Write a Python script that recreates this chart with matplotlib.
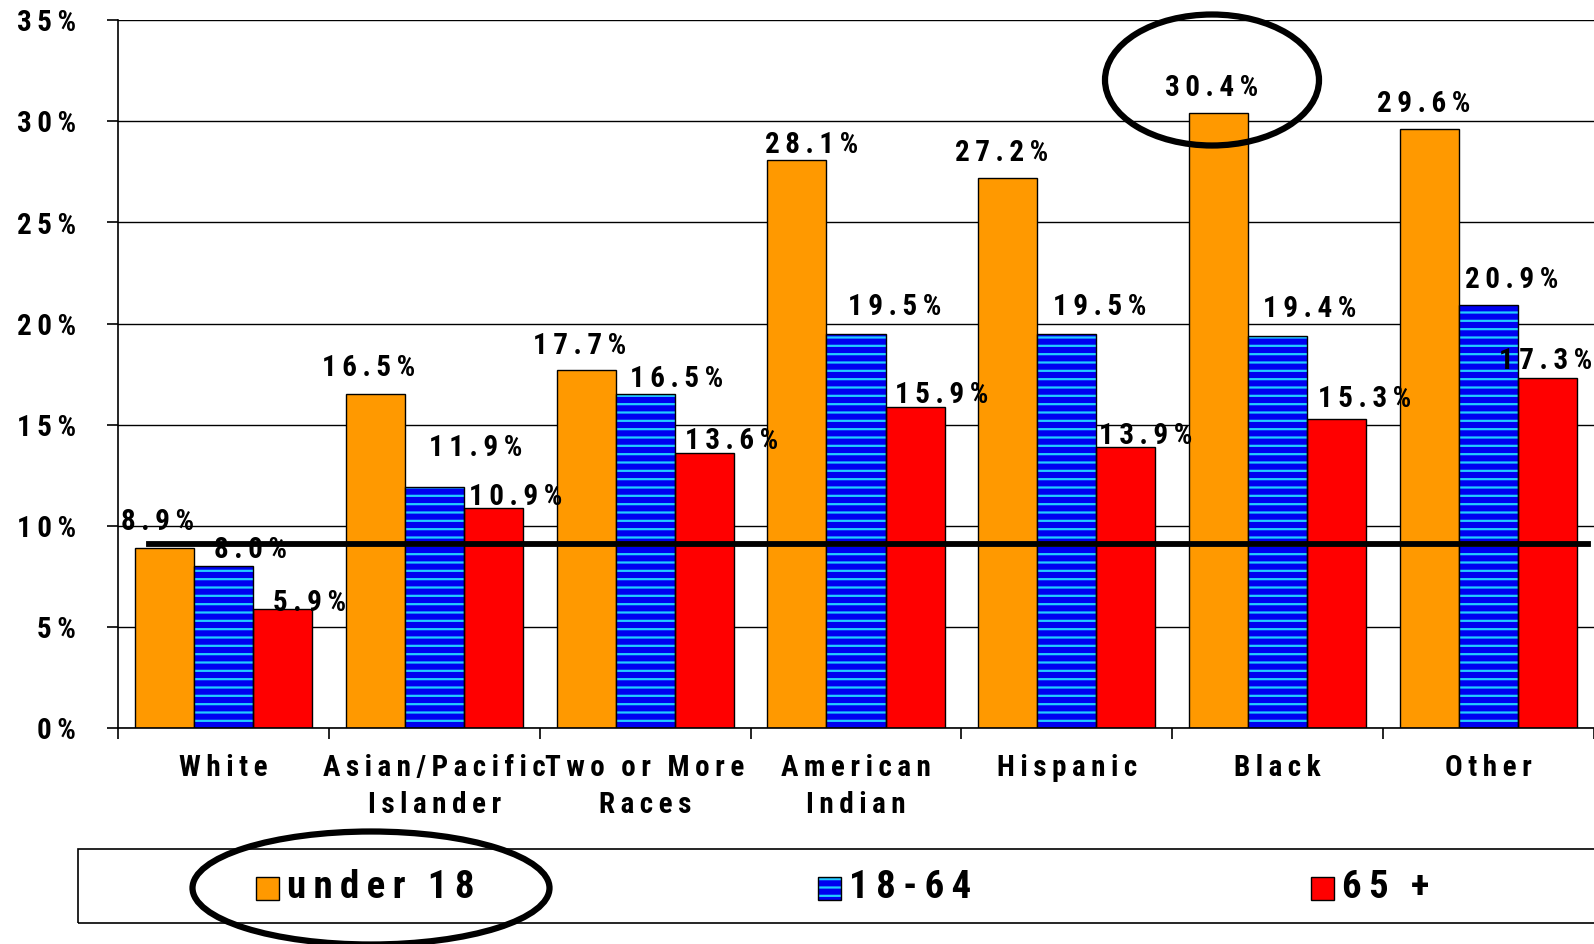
import matplotlib
matplotlib.use("Agg")
import matplotlib.pyplot as plt
from matplotlib.patches import Ellipse, Rectangle
import numpy as np

plt.rcParams['font.family'] = ['Roboto Condensed', 'Liberation Sans', 'DejaVu Sans']
plt.rcParams['font.weight'] = 'bold'
plt.rcParams['hatch.linewidth'] = 1.6

# ---------------- data ----------------
categories = ["White", "Asian/Pacific\nIslander", "Two or More\nRaces", "American\nIndian",
              "Hispanic", "Black", "Other"]
series_names = ["under 18", "18-64", "65 +"]
under18 = [8.9, 16.5, 17.7, 28.1, 27.2, 30.4, 29.6]
age18_64 = [8.0, 11.9, 16.5, 19.5, 19.5, 19.4, 20.9]
age65 = [5.9, 10.9, 13.6, 15.9, 13.9, 15.3, 17.3]
reference_line = 9.1
yticks = [0, 5, 10, 15, 20, 25, 30, 35]

# label placement (pixels, relative to bar top centre) - styling only
lab_dx = [[-7, -7, -6, 14, -6, -7, -6],
          [27, 41, 31, 38, 32, 31, 23],
          [27, 22, 27, 26, 19, 27, -2]]
lab_dy = [[26, 26, 24, 15, 25, 25, 25],
          [16, 39, 15, 26, 26, 26, 25],
          [6, 10, 12, 11, 11, 19, 17]]

ORANGE = "#FF9900"
BLUE = "#0000F0"
CYAN = "#22CCFF"
RED = "#FF0000"

SP = "\u2009"  # thin space used as letter spacing


def spaced(s):
    return "\n".join(SP.join(line.replace(" ", SP)) for line in s.split("\n"))


W, H = 1594, 944
fig = plt.figure(figsize=(W / 100, H / 100), dpi=100)
ax = fig.add_axes([118 / W, 1 - 728 / H, (W - 118) / W, (728 - 20.3) / H])

x = np.arange(len(categories))
bw = 0.28

ax.set_axisbelow(True)
ax.yaxis.grid(True, color="black", linewidth=1.0)

b1 = ax.bar(x - bw, under18, bw, color=ORANGE, edgecolor="black", linewidth=1.0, zorder=2)
# blue bars with cyan horizontal stripes
ax.bar(x, age18_64, bw, color=BLUE, edgecolor=CYAN, linewidth=0, hatch="--", zorder=2)
b2 = ax.bar(x, age18_64, bw, fill=False, edgecolor="black", linewidth=1.0, zorder=2.1)
b3 = ax.bar(x + bw, age65, bw, color=RED, edgecolor="black", linewidth=1.0, zorder=2)

ax.set_xlim(-0.5, len(categories) - 0.5)
ax.set_ylim(0, 35)

# value labels
scale = W / 1568
for si, (vals, offs) in enumerate(zip([under18, age18_64, age65], [-bw, 0, bw])):
    for ci, v in enumerate(vals):
        ax.annotate(spaced(f"{v:.1f}%"), xy=(x[ci] + offs, v),
                    xytext=(lab_dx[si][ci] * scale, lab_dy[si][ci] * scale),
                    textcoords="offset pixels", ha="center", va="center",
                    fontsize=21, fontweight="bold", zorder=5)

# reference line
ax.axhline(reference_line, xmin=0.0207, xmax=0.9959, color="black", linewidth=4.2, zorder=4)

# axes styling
for s in ["top", "right"]:
    ax.spines[s].set_visible(False)
ax.spines["left"].set_linewidth(1.2)
ax.spines["bottom"].set_linewidth(1.2)

ax.set_yticks(yticks)
ax.set_yticklabels([spaced(f"{t}%") for t in yticks], fontsize=21, fontweight="bold")
ax.tick_params(axis="y", direction="out", length=8, width=1.2, pad=22)

ax.set_xticks(x)
ax.set_xticklabels([spaced(c) for c in categories], fontsize=21, fontweight="bold",
                   linespacing=1.4, va="top")
ax.set_xticks(np.arange(-0.5, len(categories)), minor=True)
ax.tick_params(axis="x", which="major", length=0, pad=19)
ax.tick_params(axis="x", which="minor", direction="out", length=8, width=1.2)


# legend (drawn manually)
def fx(px):
    return px / W


def fy(py):
    return 1 - py / H


fig.add_artist(Rectangle((fx(78), fy(923)), fx(W + 10) - fx(78), fy(849) - fy(923),
                         transform=fig.transFigure, fill=False, edgecolor="black", linewidth=1.2))
leg_items = [(series_names[0], 256, ORANGE, None),
             (series_names[1], 818, BLUE, "--"),
             (series_names[2], 1311, RED, None)]
sq = 23
ly = 888
for name, px, col, hatch in leg_items:
    if hatch:
        fig.add_artist(Rectangle((fx(px), fy(ly + sq / 2)), fx(sq), fy(0) - fy(sq),
                                 transform=fig.transFigure, facecolor=col, edgecolor=CYAN,
                                 linewidth=0, hatch=hatch))
        fig.add_artist(Rectangle((fx(px), fy(ly + sq / 2)), fx(sq), fy(0) - fy(sq),
                                 transform=fig.transFigure, fill=False, edgecolor="black",
                                 linewidth=1.0))
    else:
        fig.add_artist(Rectangle((fx(px), fy(ly + sq / 2)), fx(sq), fy(0) - fy(sq),
                                 transform=fig.transFigure, facecolor=col, edgecolor="black",
                                 linewidth=1.0))
    fig.text(fx(px + sq + 8), fy(ly), spaced(name), ha="left", va="center",
             fontsize=28, fontweight="bold")

# highlight ellipses
fig.add_artist(Ellipse((fx(1212), fy(80)), fx(214), fy(0) - fy(131),
                       transform=fig.transFigure, fill=False, edgecolor="black", linewidth=4.5,
                       zorder=10))
fig.add_artist(Ellipse((fx(371), fy(888)), fx(357), fy(0) - fy(113),
                       transform=fig.transFigure, fill=False, edgecolor="black", linewidth=4.5,
                       zorder=10))

fig.savefig("out.png", dpi=100, facecolor="white")
